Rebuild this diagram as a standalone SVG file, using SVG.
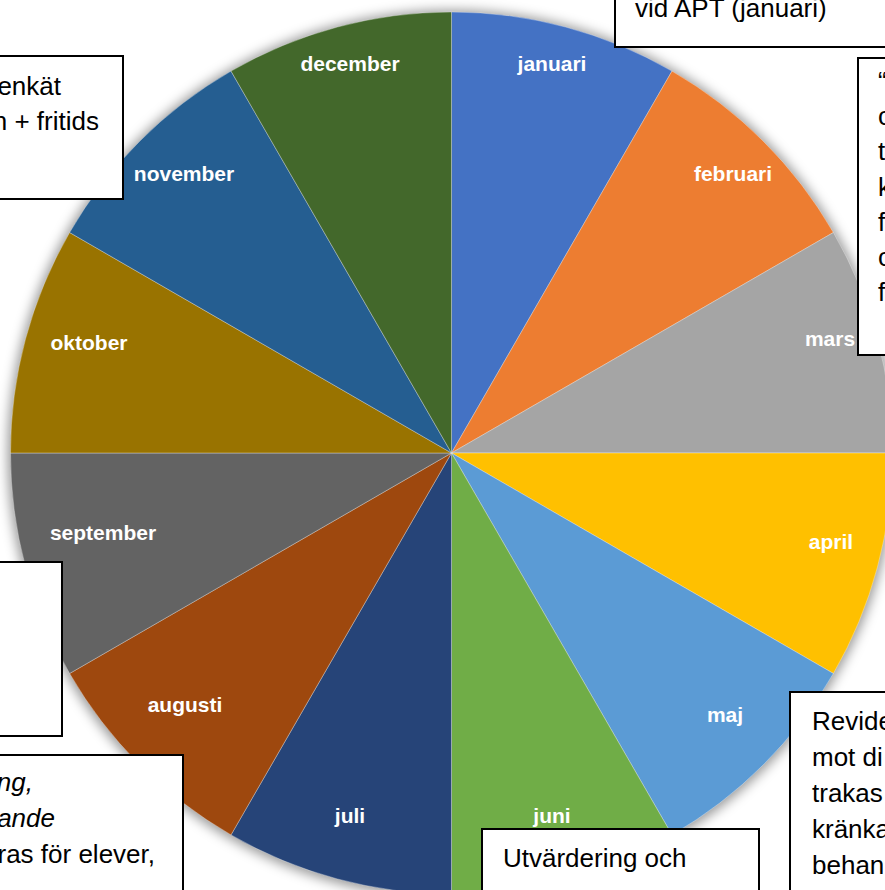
<svg xmlns="http://www.w3.org/2000/svg" width="885" height="890" viewBox="0 0 885 890">
<defs>
<filter id="sh" x="-10%" y="-10%" width="120%" height="120%"><feGaussianBlur stdDeviation="6"/></filter>
<style>
.sl{stroke:#ffffff;stroke-opacity:0.4;stroke-width:0.8}
.lb{font-family:"Liberation Sans",Arial,sans-serif;font-weight:bold;font-size:21px;fill:#ffffff;text-anchor:middle}
.bx{fill:#ffffff;stroke:#000000;stroke-width:2}
.tx{font-family:"Liberation Sans",Arial,sans-serif;font-size:26px;fill:#000000}
.it{font-style:italic}
.e{text-anchor:end}
</style>
</defs>
<rect width="885" height="890" fill="#ffffff"/>
<circle cx="451.5" cy="454" r="444" fill="#000" fill-opacity="0.4" filter="url(#sh)"/>
<g id="pie">
<g id="januari"><path class="sl" fill="#4472C4" d="M451.5 453 L451.5 12 A441 441 0 0 1 672 71.1 Z"/><text class="lb" x="552" y="71">januari</text></g>
<g id="februari"><path class="sl" fill="#ED7D31" d="M451.5 453 L672 71.1 A441 441 0 0 1 833.4 232.5 Z"/><text class="lb" x="733" y="181">februari</text></g>
<g id="mars"><path class="sl" fill="#A5A5A5" d="M451.5 453 L833.4 232.5 A441 441 0 0 1 892.5 453 Z"/><text class="lb" x="830" y="346">mars</text></g>
<g id="april"><path class="sl" fill="#FFC000" d="M451.5 453 L892.5 453 A441 441 0 0 1 833.4 673.5 Z"/><text class="lb" x="831" y="549">april</text></g>
<g id="maj"><path class="sl" fill="#5B9BD5" d="M451.5 453 L833.4 673.5 A441 441 0 0 1 672 834.9 Z"/><text class="lb" x="725" y="722">maj</text></g>
<g id="juni"><path class="sl" fill="#70AD47" d="M451.5 453 L672 834.9 A441 441 0 0 1 451.5 894 Z"/><text class="lb" x="552" y="823">juni</text></g>
<g id="juli"><path class="sl" fill="#264478" d="M451.5 453 L451.5 894 A441 441 0 0 1 231 834.9 Z"/><text class="lb" x="350" y="823">juli</text></g>
<g id="augusti"><path class="sl" fill="#9E480E" d="M451.5 453 L231 834.9 A441 441 0 0 1 69.6 673.5 Z"/><text class="lb" x="185" y="712">augusti</text></g>
<g id="september"><path class="sl" fill="#636363" d="M451.5 453 L69.6 673.5 A441 441 0 0 1 10.5 453 Z"/><text class="lb" x="103" y="540">september</text></g>
<g id="oktober"><path class="sl" fill="#997300" d="M451.5 453 L10.5 453 A441 441 0 0 1 69.6 232.5 Z"/><text class="lb" x="89" y="350">oktober</text></g>
<g id="november"><path class="sl" fill="#255E91" d="M451.5 453 L69.6 232.5 A441 441 0 0 1 231 71.1 Z"/><text class="lb" x="184" y="181">november</text></g>
<g id="december"><path class="sl" fill="#43682B" d="M451.5 453 L231 71.1 A441 441 0 0 1 451.5 12 Z"/><text class="lb" x="350" y="71">december</text></g>
</g>
<g id="box-top-left"><rect class="bx" x="-10" y="56" width="133" height="143"/>
<text class="tx e" x="61" y="95">enkät</text><text class="tx e" x="99" y="130">n + fritids</text></g>
<g id="box-top-right"><rect class="bx" x="615" y="-10" width="290" height="57"/>
<text class="tx" x="635" y="17">vid APT (januari)</text></g>
<g id="box-right"><rect class="bx" x="858" y="58" width="40" height="297"/>
<text class="tx" x="878" y="90">“</text><text class="tx" x="878" y="125">c</text><text class="tx" x="878" y="160">t</text><text class="tx" x="878" y="196">k</text><text class="tx" x="878" y="231">f</text><text class="tx" x="878" y="266">c</text><text class="tx" x="878" y="301">f</text></g>
<g id="box-mid-left"><rect class="bx" x="-10" y="562" width="72" height="174"/></g>
<g id="box-bottom-left"><rect class="bx" x="-10" y="755" width="193" height="150"/>
<text class="tx it e" x="33" y="791">ng,</text><text class="tx it e" x="55" y="827">ande</text><text class="tx e" x="155" y="863">ras för elever,</text></g>
<g id="box-bottom-center"><rect class="bx" x="482" y="829" width="277" height="80"/>
<text class="tx" x="503" y="867">Utvärdering och</text></g>
<g id="box-bottom-right"><rect class="bx" x="790" y="692" width="110" height="210"/>
<text class="tx" x="812" y="730">Revide</text><text class="tx" x="812" y="766">mot di</text><text class="tx" x="812" y="802">trakas</text><text class="tx" x="812" y="838">kränka</text><text class="tx" x="812" y="874">behan</text></g>
</svg>
